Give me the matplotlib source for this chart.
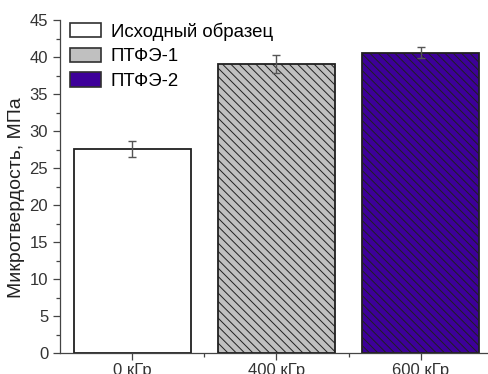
import matplotlib.pyplot as plt
import numpy as np
from matplotlib.patches import Patch
from matplotlib.ticker import MultipleLocator

# микротвердость образцов
categories = ['0 кГр', '400 кГр', '600 кГр']
hardness = [27.6, 39.1, 40.6]
errors = [1.1, 1.2, 0.8]
legend_labels = ['Исходный образец', 'ПТФЭ-1', 'ПТФЭ-2']
colors = ['white', '#c0c0c0', '#3d0099']
hatches = ['', '\\\\\\\\', '\\\\\\\\']

plt.rcParams['font.family'] = ['Liberation Sans', 'DejaVu Sans']
plt.rcParams['hatch.linewidth'] = 0.7

fig = plt.figure(figsize=(4.88, 3.74), dpi=100)
ax = fig.add_axes([60 / 488, 21 / 374, 430 / 488, 333 / 374])

x = np.arange(len(categories))
bars = ax.bar(x, hardness, width=0.81, color=colors, edgecolor='#202020',
              linewidth=1.3, zorder=2)
for bar, h in zip(bars, hatches):
    bar.set_hatch(h)
ax.errorbar(x, hardness, yerr=errors, fmt='none', ecolor='#555555',
            elinewidth=1, capsize=3, capthick=1, zorder=3)

ax.set_xlim(-0.5, 2.48)
ax.set_ylim(0, 45)
ax.set_xticks(x)
ax.set_xticklabels(categories, fontsize=12, color='#333333')
ax.set_xticks([0.5, 1.5], minor=True)
ax.yaxis.set_major_locator(MultipleLocator(5))
ax.yaxis.set_minor_locator(MultipleLocator(2.5))
ax.tick_params(axis='y', labelsize=12, labelcolor='#333333')
ax.tick_params(axis='x', pad=2)
ax.tick_params(which='major', direction='out', length=5, width=0.9, color='#444444')
ax.tick_params(which='minor', direction='out', length=3, width=0.9, color='#444444')
ax.set_ylabel('Микротвердость, МПа', fontsize=14, color='#222222')
ax.yaxis.set_label_coords(-0.082, 0.468)

for side in ['top', 'right']:
    ax.spines[side].set_visible(False)
for side in ['left', 'bottom']:
    ax.spines[side].set_color('#444444')
    ax.spines[side].set_linewidth(0.9)

handles = [Patch(facecolor=c, edgecolor='#303030', linewidth=1.2) for c in colors]
ax.legend(handles, legend_labels, loc='upper left', frameon=False, fontsize=13.4,
          handlelength=1.7, handleheight=0.8, handletextpad=0.5,
          borderaxespad=0.0, labelspacing=0.38, bbox_to_anchor=(0.005, 1.015))

plt.savefig('out.png', dpi=100)
